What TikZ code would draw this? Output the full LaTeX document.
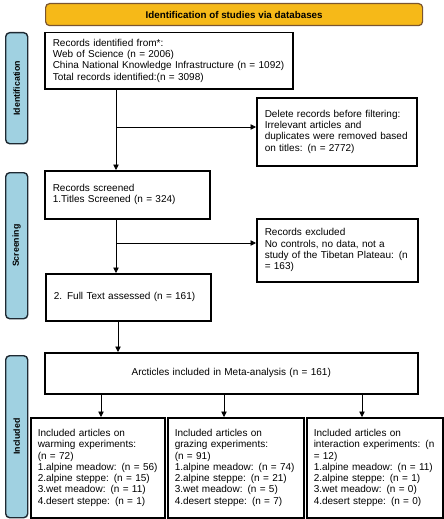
\documentclass[tikz,border=0pt]{standalone}
\usepackage{fontspec}
\setmainfont{Liberation Sans}
\usetikzlibrary{arrows.meta}
\definecolor{hdrfill}{HTML}{F6B918}
\definecolor{hdrdraw}{HTML}{7A5530}
\definecolor{sidefill}{HTML}{A0D1E1}
\definecolor{sidedraw}{HTML}{1F2A33}
\tikzset{
  box/.style={draw=black, line width=1.5pt, fill=white, rectangle, anchor=north west,
    inner xsep=8pt, inner ysep=0pt, align=left, font=\fontsize{10}{11.3}\selectfont},
  hdr/.style={draw=hdrdraw, fill=hdrfill, line width=1.2pt, rounded corners=4pt,
    anchor=north west, inner sep=0pt},
  side/.style={draw=sidedraw, fill=sidefill, line width=1.4pt, rounded corners=4pt,
    anchor=north west, inner sep=0pt, minimum width=22pt},
  sidetext/.style={rotate=90, font=\bfseries\fontsize{8.8}{10}\selectfont},
  arr/.style={-{Triangle[length=5.5pt,width=5.5pt]}, line width=0.8pt}
}
\begin{document}
\begin{tikzpicture}[x=1pt,y=-1pt]
\useasboundingbox (0,0) rectangle (444,519);
% header
\node[hdr, minimum width=377pt, minimum height=22pt] (hdr) at (45,3) {};
\node (hdrtxt) at (hdr.center) [font=\bfseries\fontsize{9.8}{11}\selectfont] {Identification of studies via databases};
% side labels
\node[side, minimum height=111pt] (s1) at (5,32) {};
\node[sidetext] (s1t) at (s1.center) {Identification};
\node[side, minimum height=146pt] (s2) at (5,172) {};
\node[sidetext] (s2t) at (s2.center) {Screening};
\node[side, minimum height=162pt] (s3) at (5,355) {};
\node[sidetext] (s3t) at (s3.center) {Included};
% boxes
\node[box, minimum width=248pt, minimum height=56pt, text width=232pt] (id) at (44,32)
  {Records identified from*:\\Web of Science (n = 2006)\\China National Knowledge Infrastructure (n = 1092)\\Total records identified:(n = 3098)};
\node[box, minimum width=160pt, minimum height=68pt, text width=144pt] (del) at (256,97)
  {Delete records before filtering:\\Irrelevant articles and\\duplicates were removed based\\on titles: (n = 2772)};
\node[box, minimum width=165pt, minimum height=48pt, text width=149pt] (scr) at (44,170)
  {Records screened\\1.Titles Screened (n = 324)};
\node[box, minimum width=161pt, minimum height=63pt, text width=145pt] (exc) at (256,218)
  {Records excluded\\No controls, no data, not a\\study of the Tibetan Plateau: (n\\= 163)};
\node[box, minimum width=165pt, minimum height=47pt, text width=149pt] (full) at (45,273)
  {2. Full Text assessed (n = 161)};
\node[box, minimum width=373pt, minimum height=41pt, text width=357pt, align=center] (meta) at (44,352)
  {Arcticles included in Meta-analysis (n = 161)};
\node[box, minimum width=134pt, minimum height=100pt, text width=120pt, inner xsep=7pt] (w) at (30,417)
  {Included articles on\\warming experiments:\\(n = 72)\\1.alpine meadow: (n = 56)\\2.alpine steppe: (n = 15)\\3.wet meadow: (n = 11)\\4.desert steppe: (n = 1)};
\node[box, minimum width=136pt, minimum height=100pt, text width=122pt, inner xsep=7pt] (g) at (167,417)
  {Included articles on\\grazing experiments:\\(n = 91)\\1.alpine meadow: (n = 74)\\2.alpine steppe: (n = 21)\\3.wet meadow: (n = 5)\\4.desert steppe: (n = 7)};
\node[box, minimum width=136pt, minimum height=100pt, text width=122pt, inner xsep=7pt] (x) at (306,417)
  {Included articles on\\interaction experiments: (n\\= 12)\\1.alpine meadow: (n = 11)\\2.alpine steppe: (n = 1)\\3.wet meadow: (n = 0)\\4.desert steppe: (n = 0)};
% connectors
\coordinate (b1) at (116,127);
\draw[arr] (id.south -| b1) -- (scr.north -| b1);
\draw[arr] (b1) -- (b1 -| del.west);
\coordinate (b2) at (116,243);
\draw[arr] (scr.south -| b2) -- (full.north -| b2);
\draw[arr] (b2) -- (b2 -| exc.west);
\coordinate (b3) at (118,330);
\draw[arr] (full.south -| b3) -- (meta.north -| b3);
\coordinate (m1) at (101,400);
\coordinate (m2) at (224,400);
\coordinate (m3) at (362,400);
\draw[arr] (meta.south -| m1) -- (w.north -| m1);
\draw[arr] (meta.south -| m2) -- (g.north -| m2);
\draw[arr] (meta.south -| m3) -- (x.north -| m3);
\end{tikzpicture}
\end{document}
